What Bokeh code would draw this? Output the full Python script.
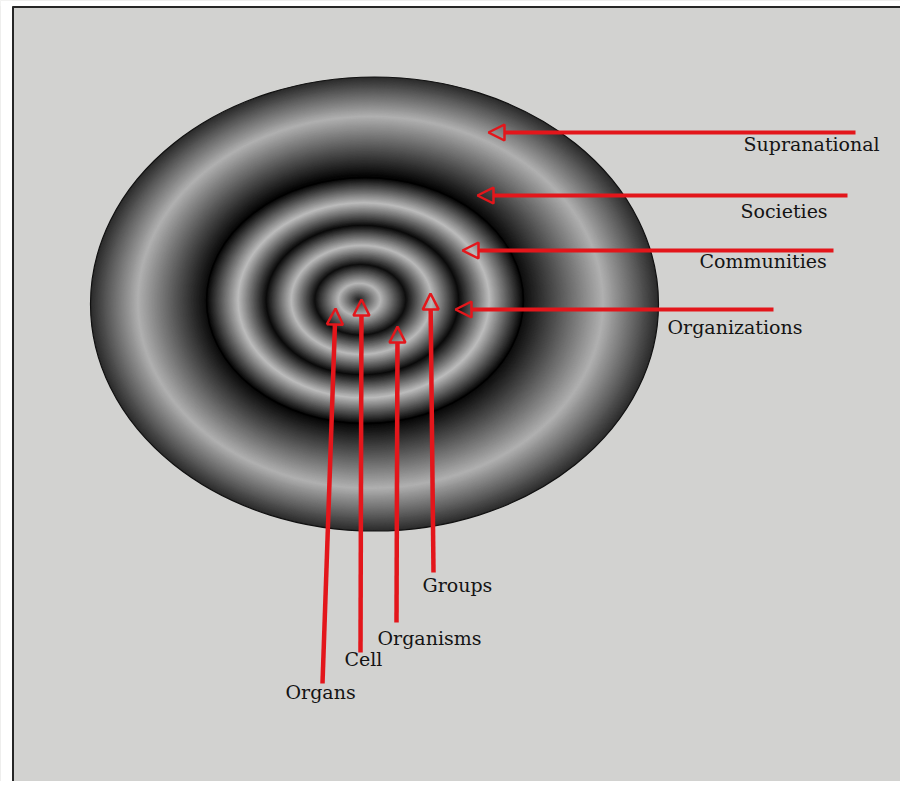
from bokeh.plotting import figure
from bokeh.models import Range1d, Arrow, NormalHead, ColumnDataSource
from bokeh.embed import file_html
from bokeh.resources import INLINE
from bokeh.core.properties import value

# ---- data: levels of organisation ----
h_labels = ["Supranational", "Societies", "Communities", "Organizations"]
h_tail_x = [855, 847, 833, 773]
h_tip_x = [488, 477, 462, 455]
h_y = [132, 195, 250, 309]
h_label_x = [743, 740, 699, 667]
h_label_y = [143, 210, 260, 326]

v_labels = ["Organs", "Cell", "Organisms", "Groups"]
v_tail_x = [322, 360, 396, 433]
v_tail_y = [683, 652, 622, 572]
v_tip_x = [335, 361, 397, 430]
v_tip_y = [308, 299, 326, 293]
v_label_x = [285, 344, 377, 422]
v_label_y = [691, 658, 637, 584]

# ---- ring geometry (outer band, inner disc) ----
outer_center = (374.0, 303.5)
outer_radius = (284.0, 227.0)
outer_focus = (351.5, 294.0)
outer_stops_t = [0.55, 0.82, 1.0]
outer_stops_g = [6, 176, 44]

inner_center = (364.5, 300.0)
inner_radius = (158.5, 123.0)
inner_focus = (358.0, 299.0)
inner_stops_t = [0.0, 0.135, 0.29, 0.445, 0.61, 0.795, 1.0]
inner_stops_g = [30, 182, 14, 186, 10, 188, 6]

RED = "#e3161b"
BG = "#d2d2d0"
W, H = 900, 781


def gray_at(t, ts, gs):
    if t <= ts[0]:
        return gs[0]
    for i in range(1, len(ts)):
        if t <= ts[i]:
            f = (t - ts[i - 1]) / (ts[i] - ts[i - 1])
            return gs[i - 1] + f * (gs[i] - gs[i - 1])
    return gs[-1]


def ring_data(center, radius, focus, ts, gs, t_min, n):
    xs, ys, ws, hs, cs = [], [], [], [], []
    for k in range(n + 1):
        t = 1.0 - (1.0 - t_min) * k / n
        if t <= 0:
            continue
        cx = focus[0] + t * (center[0] - focus[0])
        cy = focus[1] + t * (center[1] - focus[1])
        g = int(round(gray_at(t, ts, gs)))
        xs.append(cx)
        ys.append(cy)
        ws.append(2 * t * radius[0])
        hs.append(2 * t * radius[1])
        cs.append("#%02x%02x%02x" % (g, g, g))
    return dict(x=xs, y=ys, w=ws, h=hs, c=cs)


p = figure(width=W, height=H,
           x_range=Range1d(0, W), y_range=Range1d(H, 0),
           x_axis_type=None, y_axis_type=None,
           output_backend="svg", toolbar_location=None, min_border=0)
p.grid.visible = False
p.outline_line_color = None
p.background_fill_color = BG
p.border_fill_color = BG

# frame
p.quad(left=[0], right=[11.5], top=[0], bottom=[H], fill_color="white", line_color=None)
p.quad(left=[0], right=[W], top=[0], bottom=[5.5], fill_color="white", line_color=None)
p.line([12.5, 12.5], [6, H], line_color="#262626", line_width=2)
p.line([12, W], [6.5, 6.5], line_color="#262626", line_width=2)

# outer band
od = ring_data(outer_center, outer_radius, outer_focus, outer_stops_t, outer_stops_g, 0.53, 170)
p.ellipse(x="x", y="y", width="w", height="h", source=ColumnDataSource(od),
          fill_color="c", line_color=None)
p.ellipse(x=[outer_center[0]], y=[outer_center[1]], width=[2 * outer_radius[0]],
          height=[2 * outer_radius[1]], fill_color=None, line_color="#111111", line_width=1.2)

# inner disc
idd = ring_data(inner_center, inner_radius, inner_focus, inner_stops_t, inner_stops_g, 0.0, 200)
p.ellipse(x="x", y="y", width="w", height="h", source=ColumnDataSource(idd),
          fill_color="c", line_color=None)
p.ellipse(x=[inner_center[0]], y=[inner_center[1]], width=[2 * inner_radius[0]],
          height=[2 * inner_radius[1]], fill_color=None, line_color="#000000", line_width=1.5)

# arrows
h_src = ColumnDataSource(dict(xs=h_tail_x, ys=h_y, xe=h_tip_x, ye=h_y))
p.add_layout(Arrow(source=h_src, x_start="xs", y_start="ys", x_end="xe", y_end="ye",
                   line_color=RED, line_width=4,
                   end=NormalHead(size=16, fill_alpha=0, line_color=RED, line_width=2.5)))
v_src = ColumnDataSource(dict(xs=v_tail_x, ys=v_tail_y, xe=v_tip_x, ye=v_tip_y))
p.add_layout(Arrow(source=v_src, x_start="xs", y_start="ys", x_end="xe", y_end="ye",
                   line_color=RED, line_width=4.5,
                   end=NormalHead(size=16, fill_alpha=0, line_color=RED, line_width=2.5)))

# labels
p.text(x=h_label_x, y=h_label_y, text=h_labels, text_font=value("DejaVu Serif"),
       text_font_size="19px", text_baseline="alphabetic", text_align="left", text_color="#141414")
p.text(x=v_label_x, y=v_label_y, text=v_labels, text_font=value("DejaVu Serif"),
       text_font_size="19px", text_baseline="alphabetic", text_align="left", text_color="#141414")

open("out.html", "w").write(file_html(p, INLINE))
